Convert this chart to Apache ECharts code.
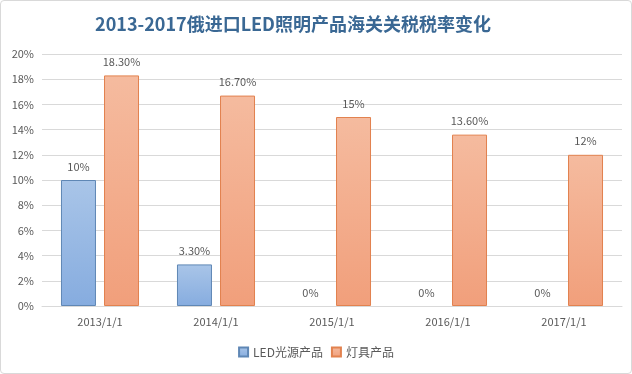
<!DOCTYPE html>
<html><head><meta charset="utf-8">
<script src="https://cdn.jsdelivr.net/npm/echarts@6/dist/echarts.min.js"></script>
<style>
html,body{margin:0;padding:0;background:#fff;}
#wrap{position:absolute;left:0;top:0;width:630px;height:372px;border:1px solid #d9d9d9;border-radius:4px;}
#c{width:630px;height:372px;}
</style></head>
<body><div id="wrap"><div id="c"></div></div>
<script>
const title = '2013-2017俄进口LED照明产品海关关税税率变化';
const categories = ['2013/1/1','2014/1/1','2015/1/1','2016/1/1','2017/1/1'];
const seriesNames = ['LED光源产品','灯具产品'];
const ledValues = [10, 3.3, 0, 0, 0];
const ledLabels = ['10%','3.30%','0%','0%','0%'];
const lampValues = [18.3, 16.7, 15, 13.6, 12];
const lampLabels = ['18.30%','16.70%','15%','13.60%','12%'];

const font = '"Microsoft YaHei","Noto Sans CJK SC","Open Sans",sans-serif';
const chart = echarts.init(document.getElementById('c'), null, {renderer:'canvas'});
function grad(top, bottom){
  return new echarts.graphic.LinearGradient(0,0,0,1,[{offset:0,color:top},{offset:1,color:bottom}]);
}
function items(vals){
  return vals.map(v => v === 0 ? {value:v, itemStyle:{borderWidth:0}} : v);
}
chart.setOption({
  animation:false,
  textStyle:{fontFamily:font},
  title:{text:title,left:287,textAlign:'center',top:9,
    textStyle:{fontSize:18,fontWeight:'bold',color:'#3a6894',fontFamily:font}},
  grid:{left:41,right:9,top:53,bottom:67,containLabel:false},
  legend:{bottom:10,left:'center',icon:'rect',itemWidth:9,itemHeight:9,itemGap:8,
    textStyle:{color:'#595959',fontSize:12,fontFamily:font},
    data:seriesNames},
  xAxis:{type:'category',data:categories,
    axisLine:{lineStyle:{color:'#d9d9d9'}},axisTick:{show:false},
    axisLabel:{color:'#595959',fontSize:11,margin:10}},
  yAxis:{type:'value',min:0,max:20,interval:2,
    axisLabel:{formatter:'{value}%',color:'#595959',fontSize:11,margin:8},
    splitLine:{lineStyle:{color:'#d9d9d9'}},axisLine:{show:false},axisTick:{show:false}},
  series:[
    {name:seriesNames[0],type:'bar',data:items(ledValues),barWidth:35,barGap:'23%',
     itemStyle:{color:grad('#a9c5e8','#86acdf'),borderColor:'#5f87b5',borderWidth:1},
     label:{show:true,position:'top',distance:8,color:'#595959',fontSize:11,
       formatter:p=>ledLabels[p.dataIndex]}},
    {name:seriesNames[1],type:'bar',data:items(lampValues),barWidth:35,
     itemStyle:{color:grad('#f5bb9f','#f19f7b'),borderColor:'#e2824f',borderWidth:1},
     label:{show:true,position:'top',distance:8,color:'#595959',fontSize:11,
       formatter:p=>lampLabels[p.dataIndex]}}
  ]
});
</script></body></html>
